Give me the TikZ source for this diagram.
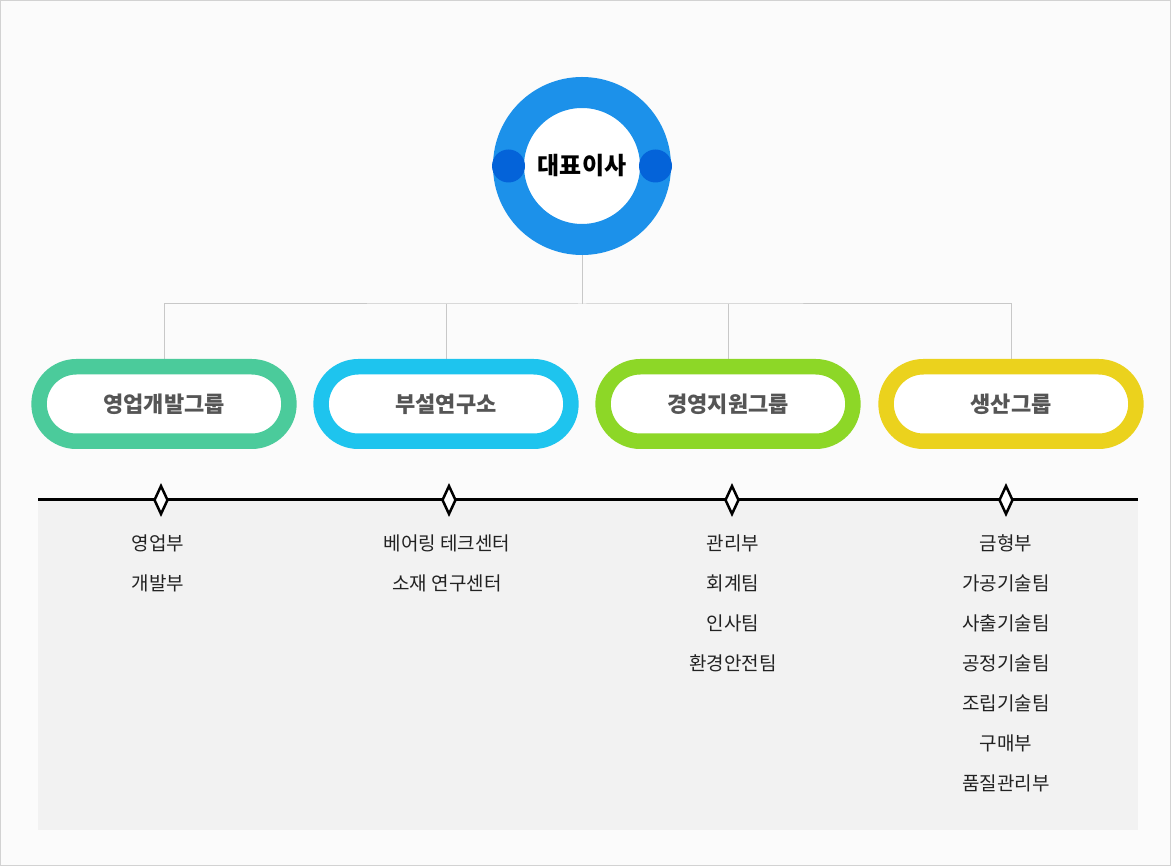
\documentclass[tikz,border=0pt]{standalone}
\usepackage{fontspec}
\newfontfamily\krfont{Noto Sans CJK KR}
\usetikzlibrary{arrows.meta, positioning, shapes.geometric, shapes.misc,
  calc, backgrounds}
\definecolor{orgBlue}{HTML}{1C91EA}
\definecolor{orgDark}{HTML}{0463D9}
\definecolor{grpGreen}{HTML}{4BCB9B}
\definecolor{grpCyan}{HTML}{1EC4EE}
\definecolor{grpLime}{HTML}{8DD727}
\definecolor{grpYellow}{HTML}{EBD21D}
\definecolor{orgGray}{HTML}{555555}
\definecolor{orgText}{HTML}{222222}
\definecolor{orgLine}{HTML}{C8C8C8}
\definecolor{orgPage}{HTML}{FBFBFB}
\definecolor{orgFrame}{HTML}{D2D2D2}
\definecolor{orgPanel}{HTML}{F2F2F2}

\begin{document}
\begin{tikzpicture}[x=1pt, y=-1pt,
    ring/.style={circle, draw=orgBlue, line width=31pt, fill=white,
                 minimum size=147pt, inner sep=0pt,
                 font=\krfont\fontsize{24}{28}\selectfont\bfseries},
    knob/.style={circle, fill=orgDark, minimum size=33pt, inner sep=0pt},
    pill/.style={rounded rectangle, draw=#1, line width=15.5pt, fill=white,
                 minimum width=256.5pt, minimum height=74.5pt, text=orgGray,
                 font=\krfont\fontsize{22}{26}\selectfont\bfseries},
    tick/.style={diamond, draw=black, line width=2.5pt, fill=white,
                 minimum width=14pt, minimum height=29pt, inner sep=0pt},
    item/.style={text=orgText, font=\krfont\fontsize{19}{22}\selectfont},
    conn/.style={draw=orgLine, line width=1pt},
  ]
    \useasboundingbox (0,0) rectangle (1171,866);

    % president
    \node[ring] (ceo) at (582,166) {대표이사};
    \node[knob] (knobL) at ([xshift=15.5pt]ceo.west) {};
    \node[knob] (knobR) at ([xshift=-15.5pt]ceo.east) {};

    % groups
    \node[pill=grpGreen] (g1) at (164,404) {영업개발그룹};
    \node[pill=grpCyan] (g2) at (446,404) {부설연구소};
    \node[pill=grpLime] (g3) at (728,404) {경영지원그룹};
    \node[pill=grpYellow] (g4) at (1011,404) {생산그룹};

    % timeline
    \coordinate (tlL) at (38,500);
    \coordinate (tlR) at (1138,500);
    \draw[line width=3pt] (tlL) -- (tlR);
    \node[tick] (d1) at (161,500) {};
    \node[tick] (d2) at (449,500) {};
    \node[tick] (d3) at (732,500) {};
    \node[tick] (d4) at (1006,500) {};

    \foreach \t [count=\i] in {영업부, 개발부}
      \node[item] (s1-\i) at ($(d1)+(-3,{3+40*\i})$) {\t};
    \foreach \t [count=\i] in {베어링 테크센터, 소재 연구센터}
      \node[item] (s2-\i) at ($(d2)+(-2,{3+40*\i})$) {\t};
    \foreach \t [count=\i] in {관리부, 회계팀, 인사팀, 환경안전팀}
      \node[item] (s3-\i) at ($(d3)+(1,{3+40*\i})$) {\t};
    \foreach \t [count=\i] in {금형부, 가공기술팀, 사출기술팀, 공정기술팀,
                               조립기술팀, 구매부, 품질관리부}
      \node[item] (s4-\i) at ($(d4)+(0,{3+40*\i})$) {\t};

    \begin{scope}[on background layer]
      \filldraw[fill=orgPage, draw=orgFrame] (0.5,0.5) rectangle (1170.5,865.5);
      \fill[orgPanel] (tlL) rectangle (1138,830);
      \coordinate (hub) at ($(ceo.south)+(0,49)$);
      \draw[conn] (ceo.south) -- (hub);
      \draw[conn] (g1.north) |- (hub) -| (g4.north);
      \draw[conn] (g2.north) -- (g2.north |- hub);
      \draw[conn] (g3.north) -- (g3.north |- hub);
    \end{scope}
  \end{tikzpicture}
\end{document}
